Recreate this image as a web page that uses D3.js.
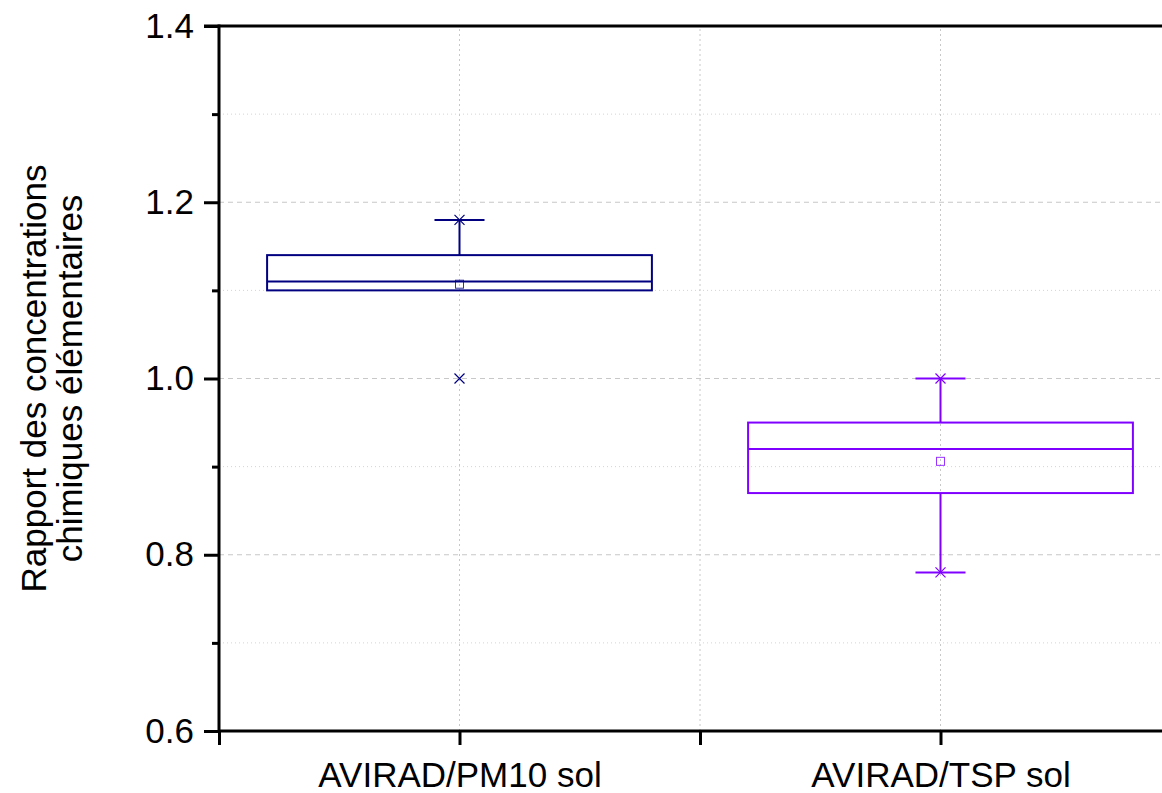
<!DOCTYPE html>
<html>
<head>
<meta charset="utf-8">
<script src="https://cdn.jsdelivr.net/npm/d3@7"></script>
<style>
  body { margin: 0; background: #fff; }
  svg { display: block; font-family: "Liberation Sans", Arial, sans-serif; }
</style>
</head>
<body>
<svg id="chart" width="1162" height="793"></svg>
<script>
// data
const categories = ['AVIRAD/PM10 sol', 'AVIRAD/TSP sol'];
const colors = ['#000080', '#8000ff'];
const q1 = [1.10, 0.87];
const median = [1.11, 0.92];
const q3 = [1.14, 0.95];
const mean = [1.107, 0.906];
const whiskerLow = [1.10, 0.78];
const whiskerHigh = [1.18, 1.00];
const minVals = [1.00, 0.78];
const maxVals = [1.18, 1.00];
const yTicks = [0.6, 0.8, 1.0, 1.2, 1.4];
const yMinor = [0.7, 0.9, 1.1, 1.3];

const svg = d3.select('#chart');
const fontSize = 35;

const x = d3.scaleLinear().domain([0.5, 2.5]).range([219, 1181]);
const y = d3.scaleLinear().domain([0.6, 1.4]).range([731, 26]);

// grid
const grid = svg.append('g');
grid.selectAll('.gmaj')
  .data(yTicks.slice(1, -1))
  .enter().append('line')
  .attr('x1', x(0.5)).attr('x2', x(2.5))
  .attr('y1', d => y(d)).attr('y2', d => y(d))
  .attr('stroke', '#c8c8c8').attr('stroke-width', 1.2)
  .attr('stroke-dasharray', '5,4');
grid.selectAll('.gmin')
  .data(yMinor)
  .enter().append('line')
  .attr('x1', x(0.5)).attr('x2', x(2.5))
  .attr('y1', d => y(d)).attr('y2', d => y(d))
  .attr('stroke', '#d4d4d4').attr('stroke-width', 1)
  .attr('stroke-dasharray', '1,3');
grid.selectAll('.gx')
  .data([1, 1.5, 2])
  .enter().append('line')
  .attr('x1', d => x(d)).attr('x2', d => x(d))
  .attr('y1', y(0.6)).attr('y2', y(1.4))
  .attr('stroke', '#c8c8c8').attr('stroke-width', 1)
  .attr('stroke-dasharray', '2,3');

// boxes
const boxW = 0.8;
const capW = 0.104;
const boxes = svg.selectAll('.box')
  .data(categories)
  .enter().append('g')
  .attr('class', 'box')
  .attr('stroke', (d, i) => colors[i])
  .attr('fill', 'none');

boxes.each(function(d, i) {
  const g = d3.select(this);
  const cx = i + 1;
  // whiskers
  g.append('line')
    .attr('x1', x(cx)).attr('x2', x(cx))
    .attr('y1', y(q3[i])).attr('y2', y(whiskerHigh[i]))
    .attr('stroke-width', 2);
  g.append('line')
    .attr('x1', x(cx)).attr('x2', x(cx))
    .attr('y1', y(q1[i])).attr('y2', y(whiskerLow[i]))
    .attr('stroke-width', 2);
  // caps
  [whiskerHigh[i], whiskerLow[i]].forEach(v => {
    if (v === q1[i] || v === q3[i]) return;
    g.append('line')
      .attr('x1', x(cx - capW / 2)).attr('x2', x(cx + capW / 2))
      .attr('y1', y(v)).attr('y2', y(v))
      .attr('stroke-width', 2);
  });
  // box
  g.append('rect')
    .attr('x', x(cx - boxW / 2))
    .attr('width', x(cx + boxW / 2) - x(cx - boxW / 2))
    .attr('y', y(q3[i]))
    .attr('height', y(q1[i]) - y(q3[i]))
    .attr('stroke-width', 2);
  g.append('line')
    .attr('x1', x(cx - boxW / 2)).attr('x2', x(cx + boxW / 2))
    .attr('y1', y(median[i])).attr('y2', y(median[i]))
    .attr('stroke-width', 2);
  // mean
  g.append('rect')
    .attr('x', x(cx) - 4).attr('y', y(mean[i]) - 4)
    .attr('width', 8).attr('height', 8)
    .attr('stroke-width', 1)
    .attr('stroke-opacity', 0.8);
  // min / max markers
  [minVals[i], maxVals[i]].forEach(v => {
    const s = 5;
    g.append('path')
      .attr('d', `M${x(cx) - s},${y(v) - s}L${x(cx) + s},${y(v) + s}M${x(cx) - s},${y(v) + s}L${x(cx) + s},${y(v) - s}`)
      .attr('stroke-width', 1.2);
  });
});

// axes
const yAxis = d3.axisLeft(y).tickValues(yTicks).tickFormat(d3.format('.1f'))
  .tickSize(15).tickPadding(10);
const yAxisG = svg.append('g').attr('transform', `translate(${x(0.5)},0)`).call(yAxis);
yAxisG.select('.domain').remove();
yAxisG.selectAll('.tick line').attr('stroke', '#000').attr('stroke-width', 3);
yAxisG.selectAll('.tick text').attr('font-size', fontSize).attr('fill', '#000')
  .attr('font-family', '"Liberation Sans", Arial, sans-serif');

const yMinorAxis = d3.axisLeft(y).tickValues(yMinor).tickFormat('').tickSize(7);
const yMinorG = svg.append('g').attr('transform', `translate(${x(0.5)},0)`).call(yMinorAxis);
yMinorG.select('.domain').remove();
yMinorG.selectAll('.tick line').attr('stroke', '#000').attr('stroke-width', 3);

const xAxis = d3.axisBottom(x).tickValues([0.5, 1, 1.5, 2, 2.5])
  .tickFormat(d => Number.isInteger(d) ? categories[d - 1] : '')
  .tickSize(14).tickPadding(17);
const xAxisG = svg.append('g').attr('transform', `translate(0,${y(0.6)})`).call(xAxis);
xAxisG.select('.domain').remove();
xAxisG.selectAll('.tick line').attr('stroke', '#000').attr('stroke-width', 3);
xAxisG.selectAll('.tick text').attr('font-size', fontSize).attr('fill', '#000')
  .attr('font-family', '"Liberation Sans", Arial, sans-serif');

// frame lines
svg.append('line')
  .attr('x1', x(0.5)).attr('x2', x(0.5))
  .attr('y1', y(1.4) - 1.5).attr('y2', y(0.6) + 1.5)
  .attr('stroke', '#000').attr('stroke-width', 3);
svg.append('line')
  .attr('x1', x(0.5) - 15).attr('x2', x(2.5))
  .attr('y1', y(1.4)).attr('y2', y(1.4))
  .attr('stroke', '#000').attr('stroke-width', 3);
svg.append('line')
  .attr('x1', x(0.5)).attr('x2', x(2.5))
  .attr('y1', y(0.6)).attr('y2', y(0.6))
  .attr('stroke', '#000').attr('stroke-width', 3);

// y axis title
const title = svg.append('text')
  .attr('transform', `translate(46,${(y(0.6) + y(1.4)) / 2}) rotate(-90)`)
  .attr('text-anchor', 'middle')
  .attr('font-size', fontSize)
  .attr('fill', '#000');
title.append('tspan').attr('x', 0).attr('dy', 0).text('Rapport des concentrations');
title.append('tspan').attr('x', 0).attr('dy', 36).text('chimiques élémentaires');
</script>
</body>
</html>
